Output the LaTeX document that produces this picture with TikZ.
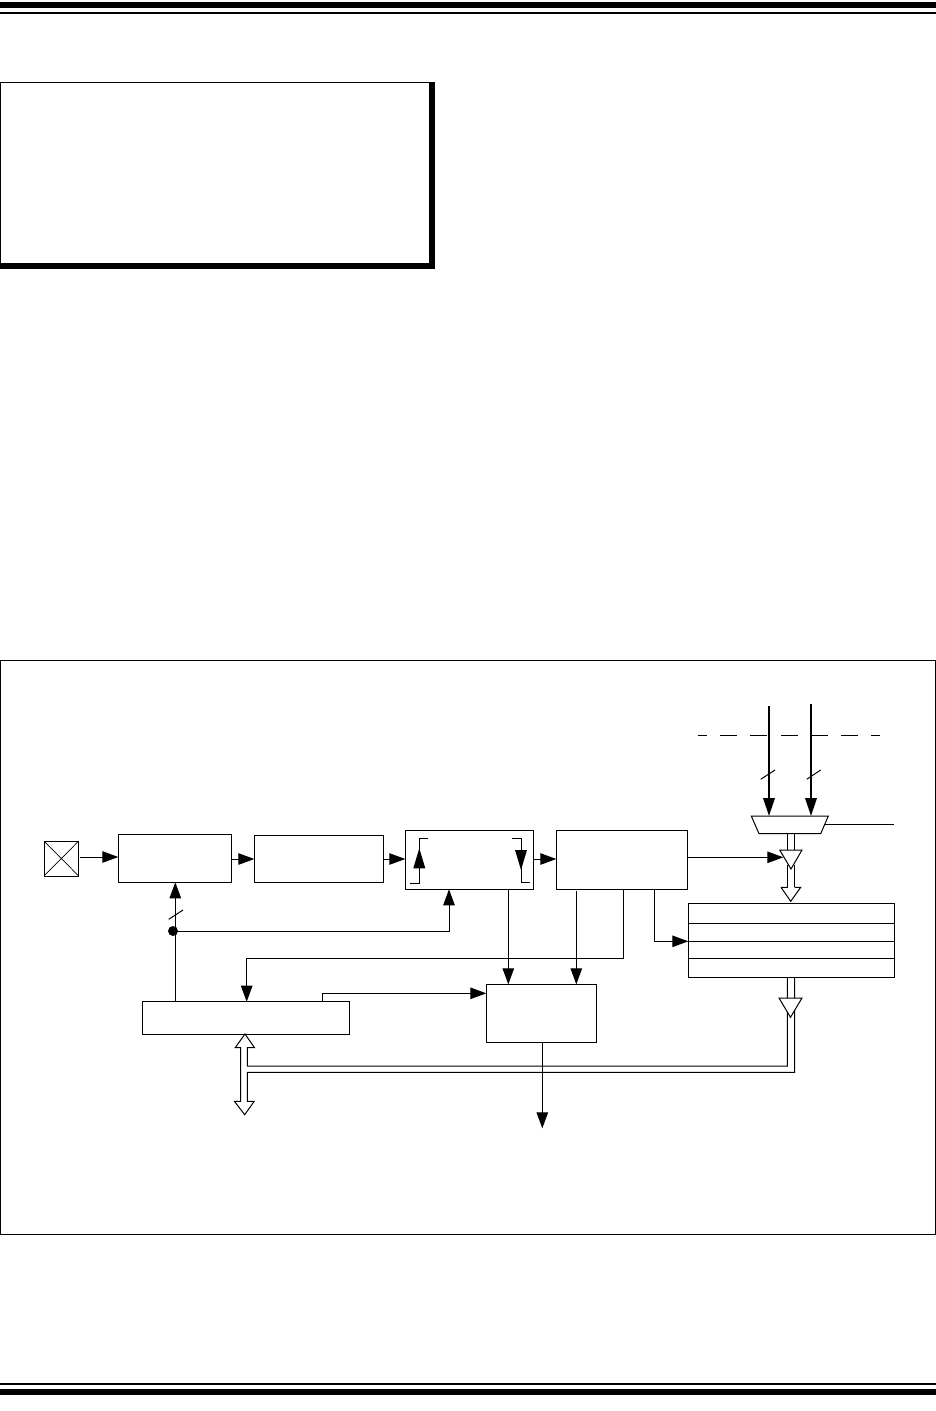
\documentclass[tikz,border=0pt]{standalone}
\usetikzlibrary{arrows.meta,calc}
\tikzset{
  x=1pt,y=-1pt,
  ln/.style={line width=1pt,draw=black},
  blk/.style={ln,rectangle,anchor=north west,inner sep=0pt,outer sep=0pt,fill=white},
  arr/.style={ln,-{Triangle[length=16pt,width=11.5pt]}},
  arrb/.style={line width=2.2pt,draw=black,-{Triangle[length=18pt,width=11.5pt]}},
  hollow/.style={ln,fill=white,line join=miter},
  bar/.style={fill=black,draw=none}
}
\begin{document}
\begin{tikzpicture}
\useasboundingbox (0,0) rectangle (936,1411);
\fill[white] (0,0) rectangle (936,1411);
% page rules
\fill[bar] (0,2) rectangle (936,8);
\fill[bar] (0,12) rectangle (936,14);
\fill[bar] (0,1383) rectangle (936,1385);
\fill[bar] (0,1389) rectangle (936,1395);
% note box
\fill[bar] (0,82) rectangle (435,269);
\fill[white] (1,83) rectangle (429,263);
% frame
\draw[line width=1pt] (0.5,660.5) rectangle (935.5,1234);

% blocks
\node[blk,minimum width=34.7pt,minimum height=35pt] (pin) at (44,841) {};
\draw[ln,line width=0.7pt] (pin.north west) -- (pin.south east) (pin.north east) -- (pin.south west);
\node[blk,minimum width=113.4pt,minimum height=48pt] (b1) at (118.3,834.3) {};
\node[blk,minimum width=128.7pt,minimum height=47pt] (b2) at (254.3,835.3) {};
\node[blk,minimum width=128pt,minimum height=59pt] (b3) at (405.3,830.3) {};
\node[blk,minimum width=131.4pt,minimum height=59pt] (b4) at (556.3,830.3) {};
\node[blk,minimum width=206.6pt,minimum height=32.6pt] (b5) at (142.7,1001.7) {};
\node[blk,minimum width=110.4pt,minimum height=58pt] (b6) at (486.3,984.3) {};
\node[blk,minimum width=205.7pt,minimum height=73.7pt] (reg) at (688.3,903.3) {};
\draw[ln] (reg.west |- 0,923.3) -- (reg.east |- 0,923.3);
\draw[ln] (reg.west |- 0,941.3) -- (reg.east |- 0,941.3);
\draw[ln] (reg.west |- 0,958) -- (reg.east |- 0,958);

% mux
\coordinate (muxtl) at (751.3,816);
\coordinate (muxtr) at (828.3,816);
\coordinate (muxbr) at (820.7,833.7);
\coordinate (muxbl) at (759,833.7);
\draw[ln,fill=white] (muxtl) -- (muxtr) -- (muxbr) -- (muxbl) -- cycle;
\coordinate (sel) at (894,824.3);
\draw[ln] (825.3,824.3) -- (sel);

% connectors
\draw[arr] (80,857) -- (b1.west |- 0,857);
\draw[arr] (b1.east |- 0,859) -- (b2.west |- 0,859);
\draw[arr] (b2.east |- 0,859) -- (b3.west |- 0,859);
\draw[arr] (b3.east |- 0,859) -- (b4.west |- 0,859);
\coordinate (dot) at (173,931);
\draw[arr] (b5.north -| 175.3,0) -- (b1.south -| 175.3,0);
\fill (dot) circle (5);
\draw[ln] (168.7,919.3) -- (183,910);
\draw[arr] (dot) -- (449,931) -- (b3.south -| 449,0);
\draw[arr] (b4.south -| 623.7,0) -- (623.7,958.3) -- (246.7,958.3) -- (b5.north -| 246.7,0);
\draw[arr] (b5.north -| 322.3,0) -- (322.3,993.3) -- (b6.west |- 0,993.3);
\draw[arr] (b3.south -| 508.3,0) -- (b6.north -| 508.3,0);
\draw[arr] (576.3,891) -- (b6.north -| 576.3,0);
\draw[arr] (b4.south -| 654.7,0) -- (654.7,941.3) -- (reg.west |- 0,941.3);
\coordinate (out) at (542.3,1128.3);

% inside block 3
\draw[ln] (410,883.3) -- (419.3,883.3) -- (419.3,838.3) -- (428,838.3);
\fill (419.3,848.3) -- (425.3,868.3) -- (413.3,868.3) -- cycle;
\draw[ln] (512.3,838.3) -- (521,838.3) -- (521,882.3) -- (530,882.3);
\fill (521,870) -- (515,850) -- (527,850) -- cycle;

% thick inputs
\coordinate (ina) at (769,706);
\coordinate (inb) at (811,704);
\draw[arrb] (ina) -- (769,816);
\draw[arrb] (inb) -- (811,816);
\draw[ln] (760.7,779.3) -- (775,770);
\draw[ln] (806.7,779.3) -- (820.7,770);
\foreach \a/\b in {697.7/706.7,720/736.7,750/767.3,781/798.3,812/827.7,841/857.7,871/880}
  \draw[ln] (\a,735) -- (\b,735);

% mux output bus and tri-state
\draw[ln] (787.3,833.7) -- (787.3,851) (794.7,833.7) -- (794.7,851);
\draw[ln] (787.8,865) -- (787.8,887.3) (794.7,865) -- (794.7,887.3);
\draw[hollow] (781,887.3) -- (787.8,887.3) (794.7,887.3) -- (800.7,887.3) -- (790.7,901.3) -- (781,887.3);
\draw[hollow] (779.7,850) -- (802,850) -- (791,869) -- cycle;
\draw[arr] (b4.east |- 0,857.3) -- (783.3,857.3);

% data bus
\draw[ln] (787.4,977) -- (787.4,1066) -- (247.4,1066) -- (247.4,1047.7) -- (254.5,1047.7) -- (245,1034) -- (235.2,1047.7) -- (240.7,1047.7) -- (240.7,1101.3) -- (234.4,1101.3) -- (244.7,1114.7) -- (254.2,1101.3) -- (247.4,1101.3) -- (247.4,1072.3) -- (794.5,1072.3) -- (794.5,977);
\draw[hollow] (779,998) -- (802,998) -- (790.5,1017.3) -- cycle;
\draw[arr] (b6.south -| out) -- (out);
\end{tikzpicture}
\end{document}
